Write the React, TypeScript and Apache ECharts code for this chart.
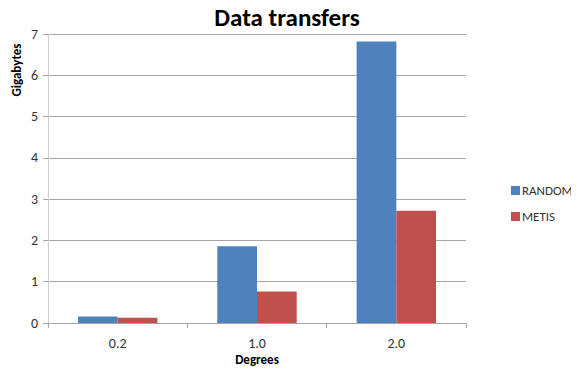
import React, { useEffect, useRef } from "react";
import * as echarts from "echarts";

const categories = ["0.2", "1.0", "2.0"];
const randomValues = [0.16, 1.86, 6.82];
const metisValues = [0.13, 0.76, 2.72];
const seriesNames = ["RANDOM", "METIS"];

const FONT = "Carlito, 'Open Sans', sans-serif";

export default function App() {
  const ref = useRef<HTMLDivElement>(null);
  useEffect(() => {
    if (!ref.current) return;
    const chart = echarts.init(ref.current, undefined, { renderer: "svg" });
    chart.setOption({
      animation: false,
      backgroundColor: "#ffffff",
      title: {
        text: "Data transfers",
        left: 282,
        textAlign: "center",
        top: 0,
        textStyle: { fontFamily: FONT, fontSize: 25, fontWeight: "bold", color: "#000" },
      },
      legend: {
        orient: "vertical",
        left: 506,
        top: 179,
        itemWidth: 9,
        itemHeight: 9,
        itemGap: 13,
        icon: "rect",
        textStyle: { fontFamily: FONT, fontSize: 13, color: "#333", padding: [0, 0, 0, -3] },
        data: seriesNames,
      },
      grid: { left: 48, right: 113, top: 34, bottom: 47, containLabel: false },
      xAxis: {
        type: "category",
        data: categories,
        axisLine: { lineStyle: { color: "#a6a6a6", width: 1 } },
        axisTick: { show: true, alignWithLabel: false, length: 5, lineStyle: { color: "#a6a6a6" } },
        axisLabel: { fontFamily: FONT, fontSize: 14, color: "#333", margin: 13 },
        splitLine: { show: false },
      },
      yAxis: {
        type: "value",
        min: 0,
        max: 7,
        interval: 1,
        axisLine: { show: true, lineStyle: { color: "#d0d0d0", width: 1 } },
        axisTick: { show: true, length: 5, lineStyle: { color: "#a6a6a6" } },
        axisLabel: { fontFamily: FONT, fontSize: 14, color: "#333", margin: 10 },
        splitLine: { show: true, lineStyle: { color: "#a6a6a6", width: 1 } },
      },
      graphic: [
        {
          type: "text",
          x: 16,
          y: 70,
          rotation: Math.PI / 2,
          style: {
            text: "Gigabytes",
            fontFamily: FONT,
            fontSize: 13,
            fontWeight: "bold",
            fill: "#000",
            align: "center",
            verticalAlign: "middle",
          },
        },
        {
          type: "text",
          x: 257,
          y: 359,
          style: {
            text: "Degrees",
            fontFamily: FONT,
            fontSize: 13,
            fontWeight: "bold",
            fill: "#000",
            align: "center",
            verticalAlign: "middle",
          },
        },
      ],
      series: [
        {
          name: seriesNames[0],
          type: "bar",
          data: randomValues,
          barGap: "0%",
          barCategoryGap: "43%",
          itemStyle: { color: "#4f81bd" },
        },
        {
          name: seriesNames[1],
          type: "bar",
          data: metisValues,
          itemStyle: { color: "#c0504d" },
        },
      ],
    });
    return () => chart.dispose();
  }, []);
  return <div ref={ref} style={{ width: 579, height: 370, marginLeft: -8, marginTop: -8 }} />;
}
